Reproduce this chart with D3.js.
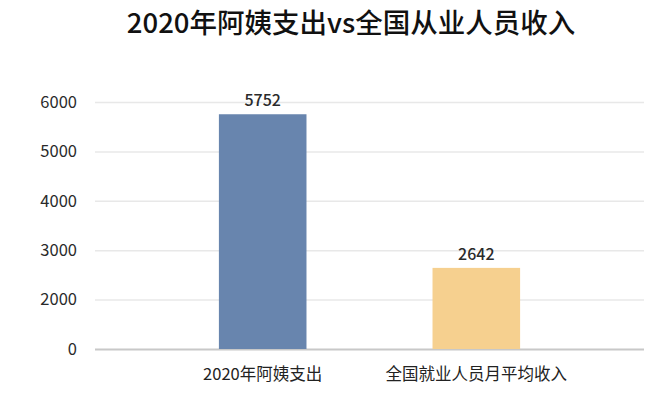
<!DOCTYPE html>
<html>
<head>
<meta charset="utf-8">
<script src="https://cdn.jsdelivr.net/npm/d3@7"></script>
<style>
  body { margin: 0; background: #fff; }
  svg { display: block; font-family: "Noto Sans CJK SC", "Noto Sans", sans-serif; }
</style>
</head>
<body>
<svg width="661" height="394"></svg>
<script>
let categories = ["2020年阿姨支出", "全国就业人员月平均收入"],
    values = [5752, 2642],
    colors = ["#6885ae", "#f6d08f"],
    yTicks = [1000, 2000, 3000, 4000, 5000, 6000],
    yTickLabels = ["0", "2000", "3000", "4000", "5000", "6000"];

let svg = d3.select("svg"),
    plotLeft = 95, plotRight = 644, plotTop = 102, plotBottom = 349;

let x = d3.scaleBand()
    .domain(categories)
    .range([plotLeft, plotRight])
    .paddingInner(0.59)
    .paddingOuter(0.58);

let y = d3.scaleLinear()
    .domain([1000, 6000])
    .range([plotBottom, plotTop]);

// title
svg.append("text")
    .attr("x", 351)
    .attr("y", 33)
    .attr("text-anchor", "middle")
    .attr("font-size", 27.5)
    .attr("font-weight", 500)
    .attr("fill", "#111")
    .text("2020年阿姨支出vs全国从业人员收入");

// grid
let yAxis = svg.append("g")
    .attr("transform", `translate(${plotLeft},0)`)
    .call(d3.axisLeft(y)
        .tickValues(yTicks)
        .tickSize(-(plotRight - plotLeft))
        .tickPadding(18)
        .tickFormat((d, i) => yTickLabels[i]));
yAxis.select(".domain").remove();
yAxis.selectAll("line")
    .attr("stroke", d => d === 1000 ? "#c8c8c8" : "#e8e8e8")
    .attr("stroke-width", d => d === 1000 ? 2 : 1.5);
yAxis.selectAll("text")
    .attr("font-size", 16.5)
    .attr("fill", "#2a2a2a")
    .attr("font-family", "\"Noto Sans CJK SC\", sans-serif");

// bars
svg.selectAll("rect.bar")
    .data(values)
    .join("rect")
    .attr("class", "bar")
    .attr("x", (d, i) => x(categories[i]))
    .attr("width", x.bandwidth())
    .attr("y", d => y(d))
    .attr("height", d => plotBottom - y(d))
    .attr("fill", (d, i) => colors[i]);

// value labels
svg.selectAll("text.val")
    .data(values)
    .join("text")
    .attr("class", "val")
    .attr("x", (d, i) => x(categories[i]) + x.bandwidth() / 2)
    .attr("y", d => y(d) - 8)
    .attr("text-anchor", "middle")
    .attr("font-size", 16)
    .attr("font-weight", 500)
    .attr("fill", "#2a2a2a")
    .text(d => d);

// category labels
svg.selectAll("text.cat")
    .data(categories)
    .join("text")
    .attr("class", "cat")
    .attr("x", d => x(d) + x.bandwidth() / 2)
    .attr("y", 380)
    .attr("text-anchor", "middle")
    .attr("font-size", 16.5)
    .attr("fill", "#222")
    .text(d => d);
</script>
</body>
</html>
